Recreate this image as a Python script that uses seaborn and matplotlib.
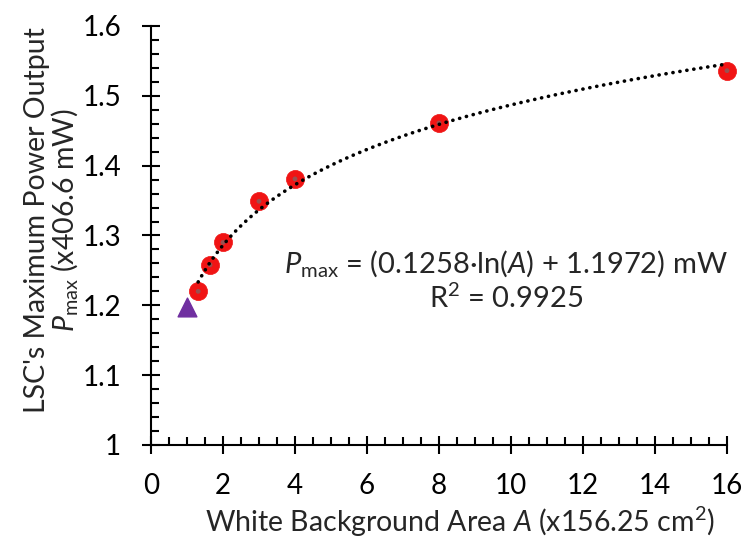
import numpy as np
import pandas as pd
import matplotlib
matplotlib.use("Agg")
import matplotlib.pyplot as plt
from matplotlib.ticker import MultipleLocator, FormatStrFormatter
import seaborn as sns

# --- Dane ---
area_red = [1.31, 1.64, 2.0, 3.0, 4.0, 8.0, 16.0]
pmax_red = [1.220, 1.258, 1.290, 1.349, 1.381, 1.461, 1.536]
area_ref = [1.0]
pmax_ref = [1.197]

df = pd.DataFrame({"A": area_red, "P": pmax_red})
df_ref = pd.DataFrame({"A": area_ref, "P": pmax_ref})

# --- Styl ---
sns.set_style("ticks")
plt.rcParams["font.family"] = ["Lato", "DejaVu Sans"]
plt.rcParams["mathtext.fontset"] = "custom"
plt.rcParams["mathtext.rm"] = "Lato"
plt.rcParams["mathtext.it"] = "Lato:italic"

fig = plt.figure(figsize=(7.45, 5.41), dpi=100)
ax = fig.add_axes([0.2027, 0.1775, 0.7731, 0.7745])

# --- Linia trendu (logarytmiczna) ---
sns.regplot(data=df, x="A", y="P", logx=True, ci=None, scatter=False, ax=ax,
            line_kws=dict(color="black", lw=2.6, linestyle=(0, (0.05, 1.9)),
                          dash_capstyle="round", zorder=4, clip_on=False))

# --- Punkty ---
sns.scatterplot(data=df, x="A", y="P", ax=ax, s=170, color="#f01414",
                edgecolor="#f01414", linewidth=0.5, zorder=3, clip_on=False)
sns.scatterplot(data=df, x="A", y="P", ax=ax, s=12, color="#9a5050",
                edgecolor="none", zorder=3.5, clip_on=False)
sns.scatterplot(data=df_ref, x="A", y="P", ax=ax, s=180, marker="^",
                color="#7030a0", edgecolor="#7030a0", zorder=3)

# --- Osie ---
ax.set_xlim(0, 16)
ax.set_ylim(1, 1.6)
ax.xaxis.set_major_locator(MultipleLocator(2))
ax.xaxis.set_minor_locator(MultipleLocator(0.5))
ax.yaxis.set_major_locator(MultipleLocator(0.1))
ax.yaxis.set_minor_locator(MultipleLocator(0.02))
ax.yaxis.set_major_formatter(FormatStrFormatter("%g"))
ax.tick_params(which="major", direction="inout", length=13, width=1.5,
               labelsize=20, color="black", labelcolor="black")
ax.tick_params(axis="x", which="major", pad=14)
ax.tick_params(axis="y", which="major", pad=15)
ax.tick_params(which="minor", direction="in", length=5.5, width=1.5, color="black")
sns.despine(ax=ax)
for s in ["left", "bottom"]:
    ax.spines[s].set_linewidth(1.5)
    ax.spines[s].set_color("black")

ax.set_xlabel("White Background Area $A$ (x156.25 cm$^2$)", fontsize=20.5, labelpad=4)
ax.set_ylabel("LSC's Maximum Power Output\n$P_\\mathrm{max}$ (x406.6 mW)",
              fontsize=20.5, labelpad=2, linespacing=0.95)
ax.xaxis.label.set_x(0.536)
ax.yaxis.label.set_y(0.537)

ax.text(9.86, 1.236, "$P_\\mathrm{max}$ = (0.1258·ln($A$) + 1.1972) mW\nR$^2$ = 0.9925",
        ha="center", va="center", fontsize=21, linespacing=1.2)

plt.savefig("out.png", dpi=100)
plt.close()
